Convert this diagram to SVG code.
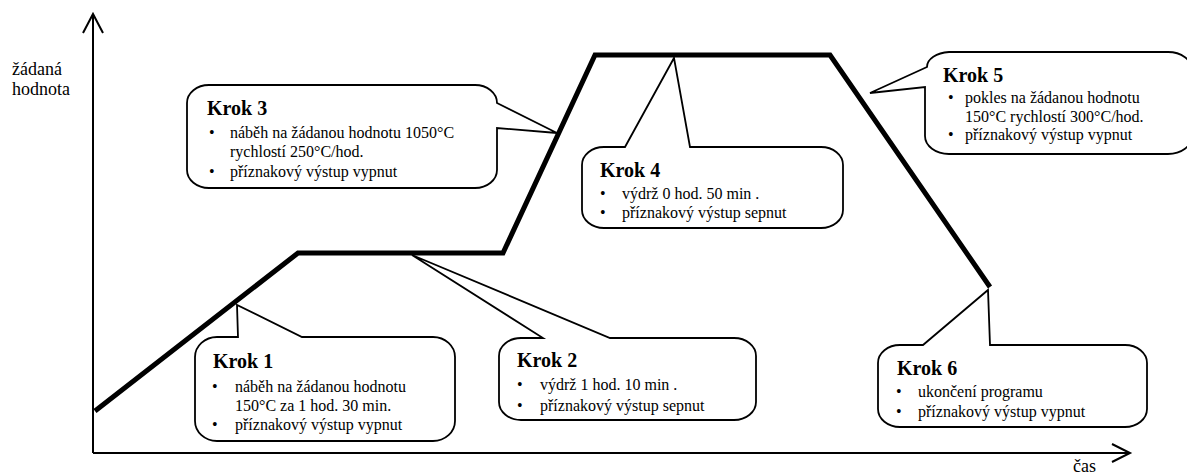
<svg xmlns="http://www.w3.org/2000/svg" width="1187" height="475" viewBox="0 0 1187 475">
<style>
text{font-family:"Liberation Serif","Times New Roman",serif;fill:#000}
.t{font-size:16px}
.h{font-size:20px;font-weight:bold}
.ax{font-size:18px}
.call{fill:#fff;stroke:#000;stroke-width:1.8;stroke-linejoin:miter}
.axis{fill:none;stroke:#000;stroke-width:2}
.prof{fill:none;stroke:#000;stroke-width:5;stroke-linejoin:miter}
</style>
<rect width="1187" height="475" fill="#fff"/>
<g id="axes">
<path class="axis" d="M93,453 L93,15 M83,33 L93,14 L103,33"/>
<path class="axis" d="M93,453 L1130,453 M1112,444 L1130,453 L1112,462"/>
<text class="ax" x="12" y="75">žádaná</text>
<text class="ax" x="12" y="95">hodnota</text>
<text class="ax" x="1073" y="472">čas</text>
</g>
<g id="connectors">
<polyline class="prof" points="95,411 298,253 503,253 595,55 830,55 990,287"/>
</g>
<g id="krok1">
<path class="call" d="M219,337 L238,337 L237,305 L302,337 L433,337 A22,20 0 0 1 455,357 L455,421 A22,20 0 0 1 433,441 L217,441 A22,20 0 0 1 195,421 L195,357 A22,20 0 0 1 217,337 Z"/>
<text class="h" x="213" y="368">Krok 1</text>
<text class="t" x="212" y="392">•</text>
<text class="t" x="235" y="392">náběh na žádanou hodnotu</text>
<text class="t" x="235" y="411">150°C za 1 hod. 30 min.</text>
<text class="t" x="212" y="430">•</text>
<text class="t" x="235" y="430">příznakový výstup vypnut</text>
</g>
<g id="krok2">
<path class="call" d="M521,338 L543,338 L412,255 L610,338 L734,338 A22,18 0 0 1 756,356 L756,402 A22,18 0 0 1 734,420 L521,420 A22,18 0 0 1 499,402 L499,356 A22,18 0 0 1 521,338 Z"/>
<text class="h" x="517" y="367">Krok 2</text>
<text class="t" x="517" y="390">•</text>
<text class="t" x="540" y="390">výdrž 1 hod. 10 min .</text>
<text class="t" x="517" y="411">•</text>
<text class="t" x="540" y="411">příznakový výstup sepnut</text>
</g>
<g id="krok3">
<path class="call" d="M209,85 L475,85 A22,18 0 0 1 497,103 L557,133 L497,128 L497,170 A22,18 0 0 1 475,188 L209,188 A22,18 0 0 1 187,170 L187,103 A22,18 0 0 1 209,85 Z"/>
<text class="h" x="207" y="115">Krok 3</text>
<text class="t" x="209" y="138">•</text>
<text class="t" x="230" y="138">náběh na žádanou hodnotu 1050°C</text>
<text class="t" x="230" y="157">rychlostí 250°C/hod.</text>
<text class="t" x="209" y="177">•</text>
<text class="t" x="230" y="177">příznakový výstup vypnut</text>
</g>
<g id="krok4">
<path class="call" d="M604,147 L625,147 L674,58 L690,147 L821,147 A22,18 0 0 1 843,165 L843,210 A22,18 0 0 1 821,228 L604,228 A22,18 0 0 1 582,210 L582,165 A22,18 0 0 1 604,147 Z"/>
<text class="h" x="600" y="177">Krok 4</text>
<text class="t" x="600" y="199">•</text>
<text class="t" x="622" y="199">výdrž 0 hod. 50 min .</text>
<text class="t" x="600" y="218">•</text>
<text class="t" x="622" y="218">příznakový výstup sepnut</text>
</g>
<g id="krok5">
<path class="call" d="M949,52 L1168,52 A24,18 0 0 1 1192,70 L1192,136 A24,18 0 0 1 1168,154 L949,154 A24,18 0 0 1 925,136 L925,87 L870,93 L927,67 A24,15 0 0 1 949,52 Z"/>
<text class="h" x="943" y="82">Krok 5</text>
<text class="t" x="948" y="103">•</text>
<text class="t" x="965" y="103">pokles na žádanou hodnotu</text>
<text class="t" x="965" y="122">150°C rychlostí 300°C/hod.</text>
<text class="t" x="948" y="140">•</text>
<text class="t" x="965" y="140">příznakový výstup vypnut</text>
</g>
<g id="krok6">
<path class="call" d="M900,345 L923,345 L988,290 L990,345 L1125,345 A22,18 0 0 1 1147,363 L1147,409 A22,18 0 0 1 1125,427 L900,427 A22,18 0 0 1 878,409 L878,363 A22,18 0 0 1 900,345 Z"/>
<text class="h" x="897" y="375">Krok 6</text>
<text class="t" x="896" y="397">•</text>
<text class="t" x="918" y="397">ukončení programu</text>
<text class="t" x="896" y="417">•</text>
<text class="t" x="918" y="417">příznakový výstup vypnut</text>
</g>
</svg>
